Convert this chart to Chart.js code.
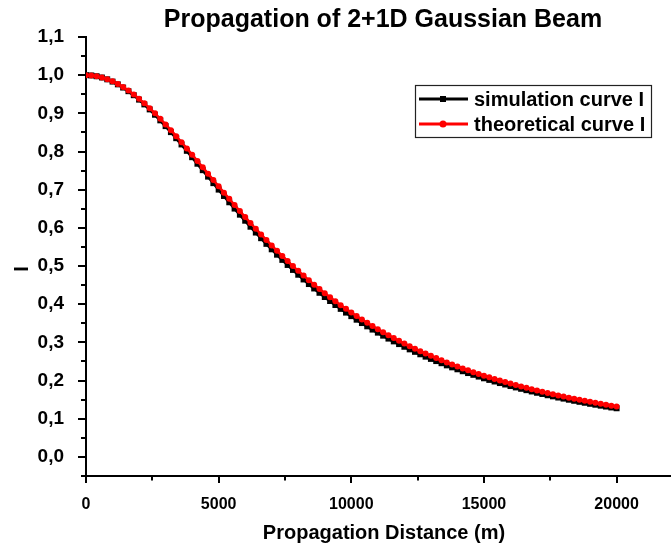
<!DOCTYPE html>
<html>
<head>
<meta charset="utf-8">
<script src="https://cdn.jsdelivr.net/npm/chart.js@4.4.0/dist/chart.umd.min.js"></script>
<style>
  html, body { margin: 0; padding: 0; background: #fff; }
  #wrap { width: 671px; height: 545px; }
</style>
</head>
<body>
<div id="wrap"><canvas id="myChart" width="671" height="545"></canvas></div>
<script>
const chartTitle = 'Propagation of 2+1D Gaussian Beam'
const xTitle = 'Propagation Distance (m)'
const yTitle = 'I'
const seriesNames = ['simulation curve I', 'theoretical curve I']

// tick positions (major ones get labels)
const xTickValues = [0, 2500, 5000, 7500, 10000, 12500, 15000, 17500, 20000]
const xTickLabels = ['0', '', '5000', '', '10000', '', '15000', '', '20000']
const yTickValues = [-0.05, 0, 0.05, 0.1, 0.15, 0.2, 0.25, 0.3, 0.35, 0.4, 0.45, 0.5,
    0.55, 0.6, 0.65, 0.7, 0.75, 0.8, 0.85, 0.9, 0.95, 1.0, 1.05, 1.1]
const yTickLabels = ['', '0,0', '', '0,1', '', '0,2', '', '0,3', '', '0,4', '', '0,5',
    '', '0,6', '', '0,7', '', '0,8', '', '0,9', '', '1,0', '', '1,1']

// propagation distance (m)
const distance = [0, 200, 400, 600, 800, 1000, 1200, 1400, 1600, 1800,
    2000, 2200, 2400, 2600, 2800, 3000, 3200, 3400, 3600, 3800,
    4000, 4200, 4400, 4600, 4800, 5000, 5200, 5400, 5600, 5800,
    6000, 6200, 6400, 6600, 6800, 7000, 7200, 7400, 7600, 7800,
    8000, 8200, 8400, 8600, 8800, 9000, 9200, 9400, 9600, 9800,
    10000, 10200, 10400, 10600, 10800, 11000, 11200, 11400, 11600, 11800,
    12000, 12200, 12400, 12600, 12800, 13000, 13200, 13400, 13600, 13800,
    14000, 14200, 14400, 14600, 14800, 15000, 15200, 15400, 15600, 15800,
    16000, 16200, 16400, 16600, 16800, 17000, 17200, 17400, 17600, 17800,
    18000, 18200, 18400, 18600, 18800, 19000, 19200, 19400, 19600, 19800,
    20000]

// simulation curve I (black)
const simulationI = [1.0000, 0.9993, 0.9972, 0.9939, 0.9891, 0.9832, 0.9759, 0.9675, 0.9580, 0.9475,
    0.9359, 0.9234, 0.9103, 0.8963, 0.8816, 0.8665, 0.8508, 0.8349, 0.8185, 0.8018,
    0.7851, 0.7680, 0.7511, 0.7342, 0.7171, 0.7002, 0.6835, 0.6670, 0.6505, 0.6345,
    0.6187, 0.6030, 0.5877, 0.5729, 0.5581, 0.5438, 0.5297, 0.5161, 0.5028, 0.4898,
    0.4772, 0.4648, 0.4528, 0.4412, 0.4299, 0.4188, 0.4083, 0.3979, 0.3878, 0.3780,
    0.3687, 0.3594, 0.3506, 0.3420, 0.3335, 0.3255, 0.3176, 0.3099, 0.3026, 0.2955,
    0.2885, 0.2817, 0.2752, 0.2688, 0.2626, 0.2567, 0.2510, 0.2454, 0.2398, 0.2346,
    0.2295, 0.2244, 0.2196, 0.2150, 0.2104, 0.2059, 0.2017, 0.1975, 0.1934, 0.1896,
    0.1856, 0.1820, 0.1784, 0.1748, 0.1714, 0.1680, 0.1648, 0.1615, 0.1586, 0.1555,
    0.1527, 0.1498, 0.1470, 0.1443, 0.1418, 0.1391, 0.1367, 0.1342, 0.1319, 0.1295,
    0.1274]

// theoretical curve I (red)
const theoreticalI = [1.0000, 0.9993, 0.9974, 0.9941, 0.9896, 0.9838, 0.9769, 0.9688, 0.9596, 0.9494,
    0.9383, 0.9263, 0.9135, 0.9000, 0.8858, 0.8711, 0.8559, 0.8403, 0.8244, 0.8082,
    0.7918, 0.7752, 0.7586, 0.7420, 0.7253, 0.7087, 0.6923, 0.6760, 0.6598, 0.6439,
    0.6283, 0.6128, 0.5976, 0.5828, 0.5682, 0.5539, 0.5399, 0.5263, 0.5130, 0.5000,
    0.4874, 0.4750, 0.4630, 0.4513, 0.4400, 0.4289, 0.4182, 0.4078, 0.3976, 0.3878,
    0.3783, 0.3690, 0.3600, 0.3513, 0.3428, 0.3346, 0.3266, 0.3189, 0.3114, 0.3041,
    0.2970, 0.2902, 0.2835, 0.2770, 0.2708, 0.2647, 0.2588, 0.2531, 0.2475, 0.2421,
    0.2369, 0.2318, 0.2268, 0.2220, 0.2174, 0.2128, 0.2084, 0.2042, 0.2000, 0.1960,
    0.1920, 0.1882, 0.1845, 0.1809, 0.1773, 0.1739, 0.1706, 0.1673, 0.1642, 0.1611,
    0.1581, 0.1552, 0.1523, 0.1496, 0.1469, 0.1442, 0.1417, 0.1392, 0.1367, 0.1343,
    0.1320]

const FONT = '"Liberation Sans", Arial, Helvetica, sans-serif'

const toPoints = (ys) => distance.map((d, i) => ({ x: d, y: ys[i] }))

// ticks with a label are long, the unlabelled ones are short
const decorPlugin = {
    id: 'decor',
    afterDraw(chart) {
        const ctx = chart.ctx
        const xs = chart.scales.x
        const ys = chart.scales.y
        const left = chart.chartArea.left
        const bottom = chart.chartArea.bottom
        ctx.save()
        ctx.strokeStyle = '#000'
        ctx.lineWidth = 2
        ctx.beginPath()
        yTickValues.forEach((v, i) => {
            const py = Math.round(ys.getPixelForValue(v))
            const len = yTickLabels[i] ? 8 : 5
            ctx.moveTo(left - len, py)
            ctx.lineTo(left, py)
        })
        xTickValues.forEach((v, i) => {
            const px = Math.round(xs.getPixelForValue(v))
            const len = xTickLabels[i] ? 7 : 4.5
            ctx.moveTo(px, bottom)
            ctx.lineTo(px, bottom + len)
        })
        ctx.stroke()

        // titles
        ctx.fillStyle = '#000'
        ctx.textAlign = 'center'
        ctx.textBaseline = 'alphabetic'
        ctx.font = 'bold 25px ' + FONT
        ctx.fillText(chartTitle, 383, 27)
        ctx.font = 'bold 20px ' + FONT
        ctx.fillText(xTitle, 384, 539)
        ctx.save()
        ctx.translate(28, 269)
        ctx.rotate(-Math.PI / 2)
        ctx.fillText(yTitle, 0, 0)
        ctx.restore()

        // legend box
        ctx.fillStyle = '#fff'
        ctx.fillRect(415, 85, 236, 52)
        ctx.strokeStyle = '#222'
        ctx.lineWidth = 1.2
        ctx.strokeRect(415.5, 85.5, 236, 52)
        const rows = [99, 124]
        chart.data.datasets.forEach((ds, i) => {
            const y = rows[i]
            ctx.strokeStyle = ds.borderColor
            ctx.lineWidth = 3
            ctx.beginPath()
            ctx.moveTo(419, y)
            ctx.lineTo(468, y)
            ctx.stroke()
            ctx.fillStyle = ds.borderColor
            if (ds.pointStyle === 'rect') {
                ctx.fillRect(440, y - 3, 6, 6)
            } else {
                ctx.beginPath()
                ctx.arc(443, y, 3.5, 0, Math.PI * 2)
                ctx.fill()
            }
            ctx.fillStyle = '#000'
            ctx.textAlign = 'left'
            ctx.textBaseline = 'middle'
            ctx.font = 'bold 20px ' + FONT
            ctx.fillText(ds.label, 474, y + 1)
        })
        ctx.restore()
    }
}

const ctx = document.getElementById('myChart').getContext('2d')

const myChart = new Chart(ctx, {
    type: 'line',
    data: {
        datasets: [{
            label: seriesNames[0],
            data: toPoints(simulationI),
            borderColor: '#000000',
            backgroundColor: '#000000',
            borderWidth: 3,
            pointStyle: 'rect',
            pointRadius: 4.2,
            pointBorderWidth: 0,
            order: 1,
            fill: false
        }, {
            label: seriesNames[1],
            data: toPoints(theoreticalI),
            borderColor: '#ff0000',
            backgroundColor: '#ff0000',
            borderWidth: 2.5,
            pointStyle: 'circle',
            pointRadius: 3,
            pointBorderWidth: 0,
            order: 0,
            fill: false
        }]
    },
    options: {
        responsive: false,
        animation: false,
        layout: { autoPadding: false, padding: { top: 37, right: 0, bottom: 0, left: 0 } },
        plugins: {
            legend: { display: false },
            title: { display: false },
            tooltip: { enabled: false }
        },
        scales: {
            x: {
                type: 'linear',
                min: 0,
                max: 22050,
                grid: { display: false },
                border: { display: true, color: '#000', width: 2 },
                afterFit: (s) => { s.height = 69; s.paddingLeft = 0; s.paddingRight = 0 },
                afterBuildTicks: (s) => { s.ticks = xTickValues.map(v => ({ value: v })) },
                ticks: {
                    autoSkip: false,
                    maxRotation: 0,
                    padding: 11,
                    color: '#000',
                    font: { family: FONT, size: 16, weight: 'bold' },
                    callback: (v, i) => xTickLabels[i]
                }
            },
            y: {
                type: 'linear',
                min: -0.05,
                max: 1.1,
                grid: { display: false },
                border: { display: true, color: '#000', width: 2 },
                afterFit: (s) => { s.width = 86; s.paddingTop = 0; s.paddingBottom = 0 },
                afterBuildTicks: (s) => { s.ticks = yTickValues.map(v => ({ value: v })) },
                ticks: {
                    autoSkip: false,
                    padding: 14,
                    color: '#000',
                    font: { family: FONT, size: 19, weight: 'bold' },
                    callback: (v, i) => yTickLabels[i]
                }
            }
        }
    },
    plugins: [decorPlugin]
})
</script>
</body>
</html>
